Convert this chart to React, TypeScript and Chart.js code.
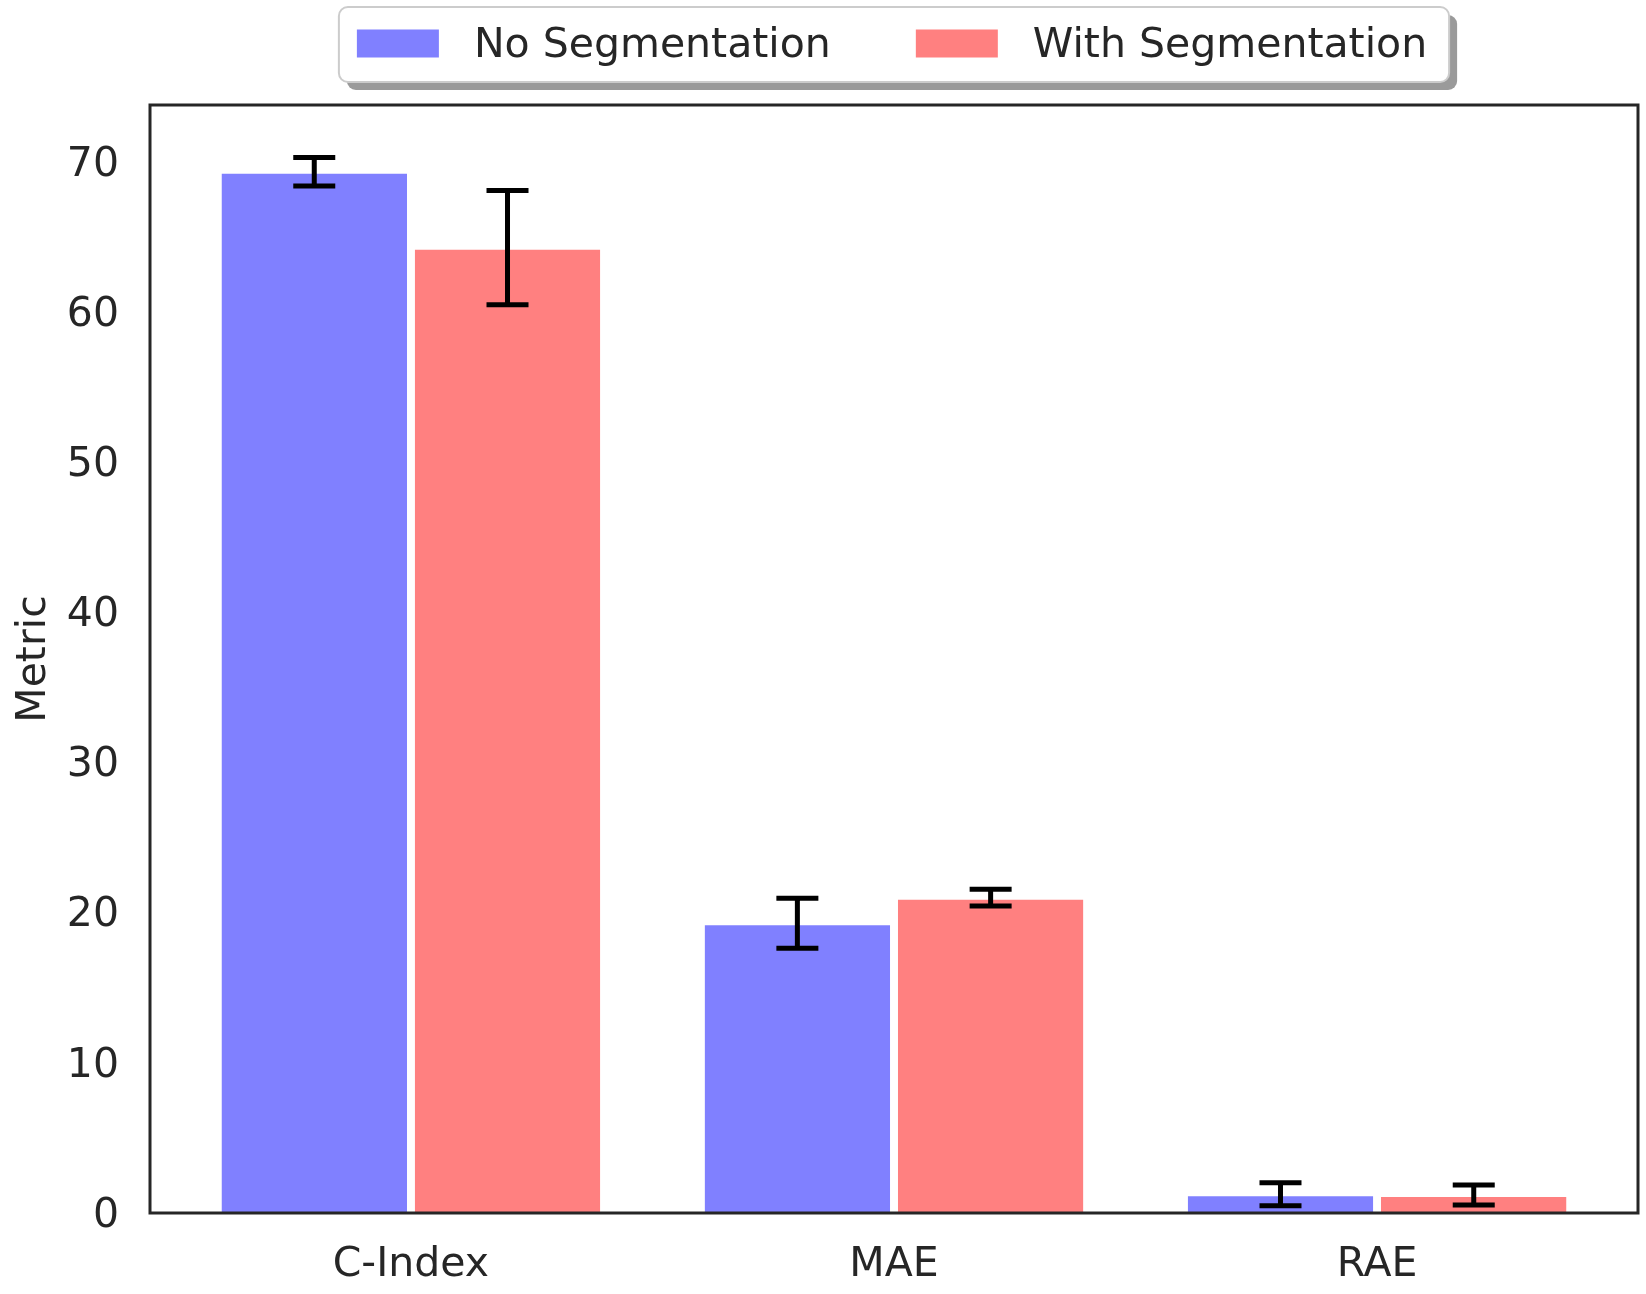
import React, { useEffect, useRef } from "react";
import { Chart, registerables } from "chart.js";

Chart.register(...registerables);

const categories = ["C-Index", "MAE", "RAE"];
const seriesNames = ["No Segmentation", "With Segmentation"];
const noSegValues = [69.35, 19.3, 1.25];
const noSegErrors = [0.95, 1.67, 0.76];
const withSegValues = [64.3, 21.0, 1.2];
const withSegErrors = [3.81, 0.56, 0.67];
const yTicks = [0, 10, 20, 30, 40, 50, 60, 70];

const BLUE = "#8080ff";
const RED = "#ff8080";
const TEXT = "#262626";
const FONT = "'DejaVu Sans', 'Liberation Sans', sans-serif";

const errorBarPlugin = {
  id: "errorBars",
  afterDatasetsDraw(chart: any) {
    const { ctx, chartArea } = chart;
    const yScale = chart.scales.y;
    ctx.save();
    // axes frame
    ctx.strokeStyle = TEXT;
    ctx.lineWidth = 3;
    ctx.strokeRect(chartArea.left, chartArea.top, chartArea.right - chartArea.left, chartArea.bottom - chartArea.top);
    // error bars
    ctx.strokeStyle = "#000000";
    ctx.lineWidth = 5;
    ctx.lineCap = "butt";
    chart.data.datasets.forEach((ds: any, di: number) => {
      const meta = chart.getDatasetMeta(di);
      const errs: number[] = ds.errors || [];
      meta.data.forEach((el: any, i: number) => {
        const v = ds.data[i].y;
        const e = errs[i];
        const x = el.x;
        const yTop = yScale.getPixelForValue(v + e);
        const yBot = yScale.getPixelForValue(v - e);
        const cap = 21;
        ctx.beginPath();
        ctx.moveTo(x, yTop);
        ctx.lineTo(x, yBot);
        ctx.moveTo(x - cap, yTop);
        ctx.lineTo(x + cap, yTop);
        ctx.moveTo(x - cap, yBot);
        ctx.lineTo(x + cap, yBot);
        ctx.stroke();
      });
    });
    ctx.restore();
  },
};

const legendPlugin = {
  id: "customLegend",
  afterDraw(chart: any) {
    const { ctx, chartArea } = chart;
    ctx.save();
    ctx.font = `41px ${FONT}`;
    const patchW = 82;
    const patchH = 28;
    const padL = 18;
    const padR = 22;
    const patchTextGap = 35;
    const itemGap = 85;
    const items = chart.data.datasets.map((ds: any) => ({
      label: ds.label,
      color: ds.backgroundColor,
      w: ctx.measureText(ds.label).width,
    }));
    let total = padL + padR;
    items.forEach((it: any, i: number) => {
      total += patchW + patchTextGap + it.w;
      if (i > 0) total += itemGap;
    });
    const cx = (chartArea.left + chartArea.right) / 2;
    const left = cx - total / 2;
    const top = 7;
    const h = 75;
    const r = 9;
    const shadow = 8;
    // shadow
    ctx.fillStyle = "#9a9a9a";
    ctx.beginPath();
    ctx.roundRect(left + shadow, top + shadow, total, h, r);
    ctx.fill();
    // frame
    ctx.fillStyle = "#ffffff";
    ctx.strokeStyle = "#cccccc";
    ctx.lineWidth = 2;
    ctx.beginPath();
    ctx.roundRect(left, top, total, h, r);
    ctx.fill();
    ctx.stroke();
    const cy = top + h / 2;
    let x = left + padL;
    items.forEach((it: any, i: number) => {
      if (i > 0) x += itemGap;
      ctx.fillStyle = it.color;
      ctx.fillRect(x, cy - patchH / 2 - 1, patchW, patchH);
      x += patchW + patchTextGap;
      ctx.fillStyle = TEXT;
      ctx.textBaseline = "middle";
      ctx.textAlign = "left";
      ctx.fillText(it.label, x, cy + 2);
      x += it.w;
    });
    ctx.restore();
  },
};

export default function App() {
  const ref = useRef<HTMLCanvasElement | null>(null);
  useEffect(() => {
    document.body.style.margin = "0";
    const canvas = ref.current;
    if (!canvas) return;
    const barStyle = {
      barPercentage: 0.96,
      categoryPercentage: 0.8,
      borderColor: "#ffffff",
      borderWidth: { top: 2, left: 0, right: 0, bottom: 0 },
      borderSkipped: "start",
    };
    const chart = new Chart(canvas, {
      type: "bar",
      data: {
        datasets: [
          {
            label: seriesNames[0],
            data: categories.map((_, i) => ({ x: i, y: noSegValues[i] })),
            errors: noSegErrors,
            backgroundColor: BLUE,
            ...barStyle,
          } as any,
          {
            label: seriesNames[1],
            data: categories.map((_, i) => ({ x: i, y: withSegValues[i] })),
            errors: withSegErrors,
            backgroundColor: RED,
            ...barStyle,
          } as any,
        ],
      },
      options: {
        animation: false,
        responsive: false,
        devicePixelRatio: 1,
        layout: { padding: { top: 105, right: 8, left: 0, bottom: 0 } },
        plugins: {
          legend: { display: false },
          tooltip: { enabled: false },
        },
        scales: {
          x: {
            type: "linear",
            min: -0.54,
            max: 2.54,
            offset: false,
            grid: { display: false, drawTicks: false },
            border: { display: false },
            afterBuildTicks: (scale: any) => {
              scale.ticks = categories.map((_, i) => ({ value: i }));
            },
            afterFit: (scale: any) => {
              scale.height = 81;
            },
            ticks: {
              padding: 28,
              color: TEXT,
              font: { family: FONT, size: 41 },
              callback: (v: any) => categories[Math.round(Number(v))] ?? "",
              maxRotation: 0,
              autoSkip: false,
            },
          },
          y: {
            type: "linear",
            min: 0,
            max: 73.8,
            grid: { display: false, drawTicks: false },
            border: { display: false },
            afterBuildTicks: (scale: any) => {
              scale.ticks = yTicks.map((v) => ({ value: v }));
            },
            afterFit: (scale: any) => {
              scale.width = 150;
            },
            ticks: {
              padding: 31,
              labelOffset: 3,
              color: TEXT,
              font: { family: FONT, size: 41 },
            },
            title: {
              display: true,
              text: "Metric",
              color: TEXT,
              font: { family: FONT, size: 41, lineHeight: 1.2 },
              padding: { top: 10, bottom: 0 },
            },
          },
        },
      } as any,
      plugins: [errorBarPlugin, legendPlugin],
    });
    return () => chart.destroy();
  }, []);
  return (
    <div style={{ width: 1646, height: 1294 }}>
      <canvas ref={ref} width={1646} height={1294} style={{ width: 1646, height: 1294, display: "block" }} />
    </div>
  );
}
